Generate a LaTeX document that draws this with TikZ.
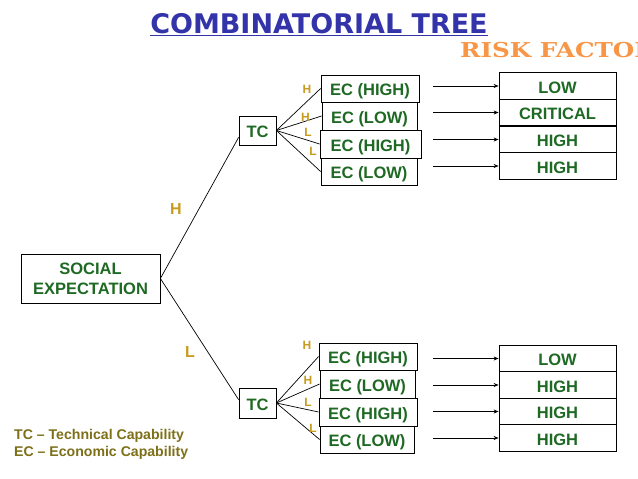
\documentclass[tikz,border=0pt]{standalone}
\usepackage{fontspec}
\setmainfont{Liberation Sans}
\newfontfamily\titlefont{DejaVu Sans}
\newfontfamily\riskfont{DejaVu Serif}
\usetikzlibrary{arrows.meta}
\definecolor{tgreen}{RGB}{30,105,35}
\definecolor{tgold}{RGB}{200,155,30}
\definecolor{tblue}{RGB}{51,51,170}
\definecolor{torange}{RGB}{247,150,70}
\definecolor{tolive}{RGB}{125,112,25}
\begin{document}
\begin{tikzpicture}[x=1pt,y=-1pt,
  box/.style={draw, line width=0.8pt, inner sep=0pt, text=tgreen, text height=14.6pt, text depth=0pt, font=\bfseries\fontsize{16.5}{20}\selectfont},
  small/.style={inner sep=0pt, text=tgold, font=\bfseries\fontsize{12}{14}\selectfont},
  big/.style={inner sep=0pt, text=tgold, font=\bfseries\fontsize{16}{19}\selectfont},
  link/.style={line width=0.7pt},
  arr/.style={line width=0.7pt, -{Stealth[length=5pt,width=4pt]}},
  legend/.style={inner sep=0pt, anchor=base west, text=tolive, font=\bfseries\fontsize{14.1}{16}\selectfont}]
\clip (0,0) rectangle (638,479);
\fill[white] (0,0) rectangle (638,479);

% titles
\node[inner sep=0pt, anchor=base, text=tblue, font=\titlefont\bfseries\fontsize{27}{30}\selectfont] (title) at (319,33) {\underline{COMBINATORIAL TREE}};
\node[inner sep=0pt, anchor=base west, text=torange, font=\riskfont\bfseries\fontsize{20.5}{24}\selectfont, xscale=1.2] (risk) at (460,57) {RISK FACTOR};

% main nodes
\node[box, minimum width=139pt, minimum height=49pt, align=center, text height=, text depth=] (se) at (90.5,278.5) {SOCIAL\\EXPECTATION};
\node[box, minimum width=37pt, minimum height=29pt] (tc1) at (257.5,130.5) {TC};
\node[box, minimum width=37pt, minimum height=30pt] (tc2) at (257.5,403) {TC};

% top EC boxes
\node[box, minimum width=98pt, minimum height=27pt] (e1) at (370,88.5) {EC (HIGH)};
\node[box, minimum width=95pt, minimum height=28pt] (e2) at (369.5,116) {EC (LOW)};
\node[box, minimum width=101pt, minimum height=28pt] (e3) at (370.5,144) {EC (HIGH)};
\node[box, minimum width=96pt, minimum height=27pt] (e4) at (369,171.5) {EC (LOW)};
% bottom EC boxes
\node[box, minimum width=98pt, minimum height=27pt] (f1) at (368,356.5) {EC (HIGH)};
\node[box, minimum width=95pt, minimum height=28pt] (f2) at (367.5,384) {EC (LOW)};
\node[box, minimum width=98pt, minimum height=28pt] (f3) at (368,412) {EC (HIGH)};
\node[box, minimum width=94pt, minimum height=27pt] (f4) at (367,439.5) {EC (LOW)};

% risk boxes
\node[box, minimum width=117pt, minimum height=26.5pt] (r1) at (557.5,86) {LOW};
\node[box, minimum width=117pt, minimum height=26.5pt] (r2) at (557.5,112.5) {CRITICAL};
\node[box, minimum width=117pt, minimum height=26.5pt] (r3) at (557.5,139.5) {HIGH};
\node[box, minimum width=117pt, minimum height=26.5pt] (r4) at (557.5,166) {HIGH};
\node[box, minimum width=117pt, minimum height=26.5pt] (s1) at (557.5,358.5) {LOW};
\node[box, minimum width=117pt, minimum height=26.5pt] (s2) at (557.5,385) {HIGH};
\node[box, minimum width=117pt, minimum height=26.5pt] (s3) at (557.5,411.5) {HIGH};
\node[box, minimum width=117pt, minimum height=26.5pt] (s4) at (557.5,438) {HIGH};

% tree links
\draw[link] (se.east) -- (tc1.200);
\draw[link] (se.east) -- (tc2.170);
\foreach \n in {e1,e2,e3,e4} \draw[link] (tc1.east) -- (\n.west);
\foreach \n in {f1,f2,f3,f4} \draw[link] (tc2.east) -- (\n.west);

% arrows
\foreach \r/\y in {r1/86,r2/112.5,r3/139.5,r4/166,s1/358.5,s2/385,s3/411.5,s4/438} {
  \coordinate (a\r) at (433,\y);
  \draw[arr] (a\r) -- (a\r -| \r.west);
}

% labels
\node[big] (lh) at (176,209) {H};
\node[big] (ll) at (190,352) {L};
\node[small] (t1) at (307,89) {H};
\node[small] (t2) at (305.5,117) {H};
\node[small] (t3) at (308,132) {L};
\node[small] (t4) at (313,151) {L};
\node[small] (b1) at (307,345) {H};
\node[small] (b2) at (308,380) {H};
\node[small] (b3) at (308,402) {L};
\node[small] (b4) at (313,428) {L};

% legend
\node[legend] (lg1) at (14,439.5) {TC – Technical Capability};
\node[legend] (lg2) at (14,456) {EC – Economic Capability};
\end{tikzpicture}
\end{document}
